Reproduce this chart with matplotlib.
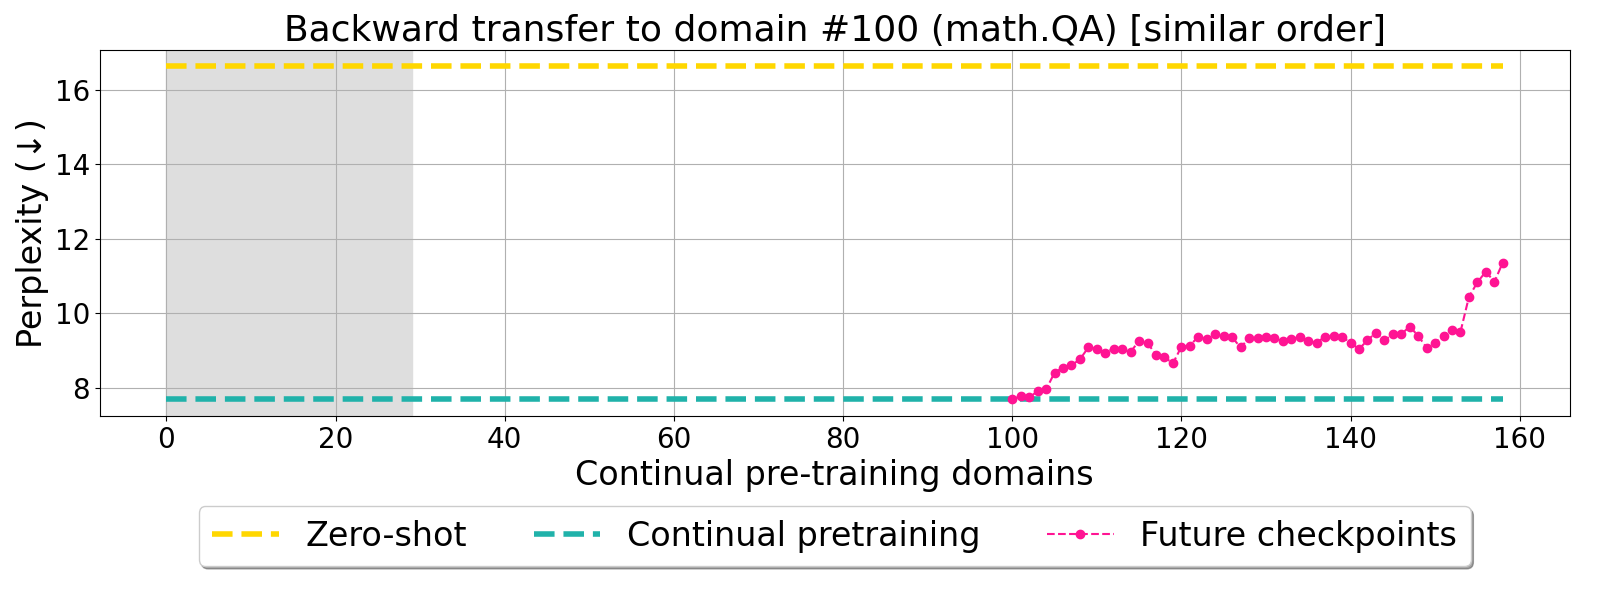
import matplotlib
matplotlib.use("Agg")
import matplotlib.pyplot as plt
import numpy as np

zero_shot = 16.63
continual = 7.69
domain_start = 0
domain_end = 158
shade_end = 29

future_x = list(range(100, 159))
future_y = [7.69, 7.77, 7.74, 7.90, 7.95, 8.40, 8.54, 8.60, 8.76, 9.08,
            9.05, 8.94, 9.05, 9.03, 8.96, 9.26, 9.19, 8.89, 8.82, 8.65,
            9.10, 9.13, 9.37, 9.30, 9.44, 9.40, 9.35, 9.08, 9.33, 9.33,
            9.35, 9.33, 9.24, 9.30, 9.37, 9.24, 9.21, 9.37, 9.40, 9.37,
            9.20, 9.04, 9.27, 9.48, 9.27, 9.43, 9.44, 9.64, 9.39, 9.07,
            9.21, 9.40, 9.55, 9.50, 10.44, 10.83, 11.12, 10.84, 11.36]

fig, ax = plt.subplots(figsize=(16, 6), dpi=100)
fig.subplots_adjust(left=0.0623, right=0.981, top=0.917, bottom=0.307)

ax.axvspan(domain_start, shade_end, color='#dedede', zorder=0)
xs = [domain_start, domain_end]
ax.plot(xs, [zero_shot, zero_shot], '--', color='#FFD700', lw=4, label='Zero-shot')
ax.plot(xs, [continual, continual], '--', color='#20B2AA', lw=4, label='Continual pretraining')
ax.plot(future_x, future_y, '--', marker='o', color='#FF1493', lw=1.5, markersize=6,
        label='Future checkpoints')

ax.grid(True, color='#b0b0b0')
ax.set_axisbelow(True)
ax.set_xticks([0, 20, 40, 60, 80, 100, 120, 140, 160])
ax.set_yticks([8, 10, 12, 14, 16])
ax.tick_params(labelsize=20)
ax.set_xlabel('Continual pre-training domains', fontsize=24)
ax.set_ylabel('Perplexity (↓)', fontsize=24)
ax.set_title('Backward transfer to domain #100 (math.QA) [similar order]', fontsize=26)
ax.legend(loc='upper center', bbox_to_anchor=(0.5, -0.202), ncol=3, fontsize=24,
          shadow=True, fancybox=True, columnspacing=2.0)

fig.savefig('out.png', dpi=100)
